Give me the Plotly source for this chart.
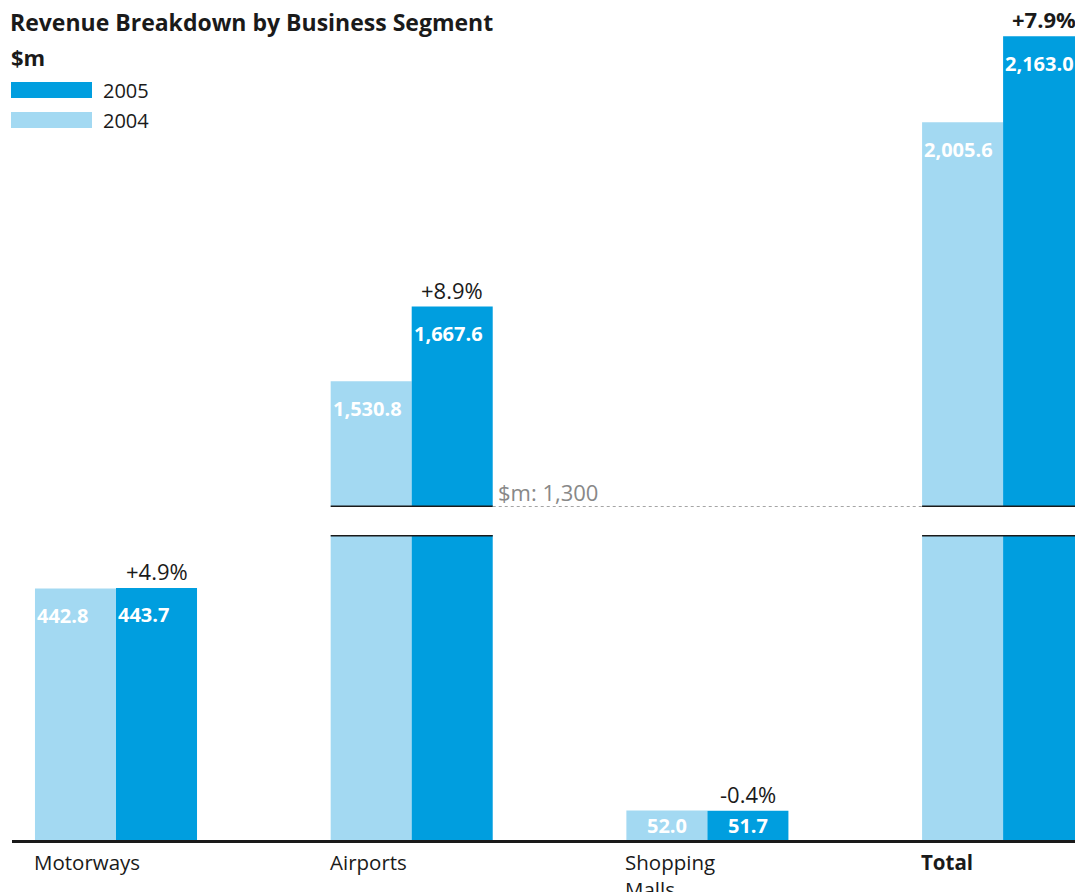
import plotly.graph_objects as go

# ---- data ----
categories = ["Motorways", "Airports", "Shopping<br>Malls", "Total"]
rev_2004 = [442.8, 1530.8, 52.0, 2005.6]
rev_2005 = [443.7, 1667.6, 51.7, 2163.0]
labels_2004 = ["442.8", "1,530.8", "52.0", "2,005.6"]
labels_2005 = ["443.7", "1,667.6", "51.7", "2,163.0"]
pct_change = ["+4.9%", "+8.9%", "-0.4%", "+7.9%"]
series_names = ["2004", "2005"]

# ---- style ----
W, H = 1083, 892
OFF = 8  # page body margin
C04 = "#A3D9F2"
C05 = "#009EDF"
FONT = "Open Sans"
DARK = "#1a1a1a"
BARGAP = 0.452
LOWER_MAX = 537      # top of lower axis section
BREAK_VAL = 1300     # bottom of upper axis section
UPPER_MAX = 2215

def px(p):  # target page pixel x -> paper fraction
    return (p - OFF) / W

def py(p):  # target page pixel y -> paper fraction
    return 1 - (p - OFF) / H

half = (1 - BARGAP) / 2
off = half / 2

fig = go.Figure()
for yax in ["y", "y2"]:
    for vals, name, col in [(rev_2004, series_names[0], C04), (rev_2005, series_names[1], C05)]:
        fig.add_trace(go.Bar(x=list(range(len(categories))), y=vals, name=name, marker_color=col,
                             marker_line_width=0, yaxis=yax, showlegend=False, hoverinfo="skip"))

ann = []
shapes = []

for i, cat in enumerate(categories):
    for vals, labs, sign in [(rev_2004, labels_2004, -1), (rev_2005, labels_2005, 1)]:
        v = vals[i]
        yref = "y2" if v > BREAK_VAL else "y"
        lab_font = dict(family=FONT, size=20, color="white", weight="bold")
        if v < 100:
            ann.append(dict(x=i + sign * off, y=v / 2, xref="x", yref=yref, text=labs[i],
                            showarrow=False, yanchor="middle", font=lab_font))
        else:
            left = i - half if sign < 0 else i
            ann.append(dict(x=left, y=v, xref="x", yref=yref, text=labs[i],
                            showarrow=False, xanchor="left", xshift=0,
                            yanchor="middle", yshift=-27, font=lab_font))
    v5 = rev_2005[i]
    is_total = cat == "Total"
    ann.append(dict(x=i + off, y=v5, xref="x", yref="y2" if v5 > BREAK_VAL else "y",
                    text=pct_change[i], showarrow=False, yanchor="middle", yshift=17,
                    font=dict(family=FONT, size=22, color=DARK,
                              weight="bold" if is_total else "normal")))
    ann.append(dict(x=i - half, y=py(846), xref="x", yref="paper", text=cat, showarrow=False,
                    xanchor="left", yanchor="top", align="left", xshift=-3,
                    font=dict(family=FONT, size=20.5, color=DARK,
                              weight="bold" if is_total else "normal")))
    # axis break marks for bars taller than the lower section
    if max(rev_2004[i], rev_2005[i]) > LOWER_MAX:
        shapes.append(dict(type="line", xref="x", yref="y", x0=i - half, x1=i + half,
                           y0=LOWER_MAX, y1=LOWER_MAX, line=dict(color=DARK, width=3)))
        shapes.append(dict(type="line", xref="x", yref="y2", x0=i - half, x1=i + half,
                           y0=BREAK_VAL, y1=BREAK_VAL, line=dict(color=DARK, width=3)))

broken = [i for i in range(len(categories)) if max(rev_2004[i], rev_2005[i]) > LOWER_MAX]
shapes.append(dict(type="line", xref="x", yref="y2", x0=broken[0] + half, x1=broken[-1] - half,
                   y0=BREAK_VAL, y1=BREAK_VAL, line=dict(color="#888888", width=1.5, dash="dot")))
ann.append(dict(x=broken[0] + half, y=BREAK_VAL, xref="x", yref="y2", text="$m: 1,300",
                showarrow=False, xanchor="left", yanchor="bottom", xshift=3, yshift=-2,
                font=dict(family=FONT, size=22, color="#888888")))

# title and unit
ann.append(dict(x=px(8), y=py(22), xref="paper", yref="paper", text="Revenue Breakdown by Business Segment",
                showarrow=False, xanchor="left", yanchor="middle",
                font=dict(family=FONT, size=23, color=DARK, weight="bold")))
ann.append(dict(x=px(9), y=py(57), xref="paper", yref="paper", text="$m",
                showarrow=False, xanchor="left", yanchor="middle",
                font=dict(family=FONT, size=22, color=DARK, weight="bold")))

# custom legend
for name, col, yc in [(series_names[1], C05, 90), (series_names[0], C04, 120)]:
    shapes.append(dict(type="rect", xref="paper", yref="paper", x0=px(11), x1=px(92),
                       y0=py(yc - 8), y1=py(yc + 8), fillcolor=col, line_width=0))
    ann.append(dict(x=px(101), y=py(yc), xref="paper", yref="paper", text=name, showarrow=False,
                    xanchor="left", yanchor="middle", font=dict(family=FONT, size=20, color=DARK)))

# x range so that category centres land where the reference puts them
X0, X1 = 12, 1083          # page pixels of plot area
C0, STEP = 116, 295.7      # page pixel of first category centre, spacing
fig.update_layout(
    width=W, height=H,
    margin=dict(l=0, r=0, t=0, b=0),
    paper_bgcolor="white", plot_bgcolor="rgba(0,0,0,0)",
    barmode="group", bargap=BARGAP, bargroupgap=0,
    xaxis=dict(domain=[px(X0), px(X1)], range=[(X0 - C0) / STEP, (X1 - C0) / STEP],
               showticklabels=False, ticks="", showgrid=False, zeroline=False,
               showline=True, linecolor=DARK, linewidth=2.5, anchor="y", fixedrange=True),
    yaxis=dict(domain=[py(840), py(535)], range=[0, LOWER_MAX], showticklabels=False,
               showgrid=False, zeroline=False, showline=False, anchor="x", fixedrange=True),
    yaxis2=dict(domain=[py(507), py(8)], range=[BREAK_VAL, UPPER_MAX], showticklabels=False,
                showgrid=False, zeroline=False, showline=False, anchor="x", fixedrange=True),
    annotations=ann, shapes=shapes, showlegend=False,
)

fig.write_html("out.html", config={"displayModeBar": False})
